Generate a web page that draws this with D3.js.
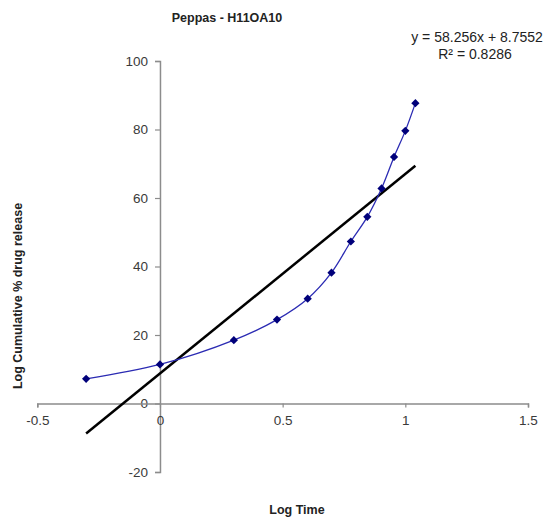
<!DOCTYPE html>
<html>
<head>
<meta charset="utf-8">
<script src="https://cdn.jsdelivr.net/npm/d3@7"></script>
<style>
  body { margin: 0; background: #fff; }
  text { font-family: "Liberation Sans", Arial, sans-serif; }
</style>
</head>
<body>
<script>
// Log time vs log cumulative % drug release
var logTime = [-0.301, 0, 0.301, 0.477, 0.602, 0.699, 0.778, 0.845, 0.903, 0.954, 1.0, 1.041];
var logRelease = [7.2, 11.4, 18.5, 24.5, 30.6, 38.2, 47.3, 54.5, 62.8, 72.0, 79.6, 87.7];

// linear trendline shown on chart
var slope = 58.256;
var intercept = 8.7552;
var rSquared = 0.8286;

var xTicks = [-0.5, 0, 0.5, 1, 1.5];
var yTicks = [-20, 0, 20, 40, 60, 80, 100];

var points = logTime.map(function(t, i) { return { x: t, y: logRelease[i] }; });

var svg = d3.select("body")
    .append("svg")
    .attr("width", 553)
    .attr("height", 519);

var x = d3.scaleLinear().domain([-0.5, 1.5]).range([37.3, 528]);
var y = d3.scaleLinear().domain([-20, 100]).range([472, 61]);

// plain hyphen for negatives, like the original
var fmt = function(d) { return String(d); };

// y axis sits at x = 0
var yAxis = svg.append("g")
    .attr("transform", "translate(" + x(0) + ",0)")
    .call(d3.axisLeft(y).tickValues(yTicks).tickSize(5).tickPadding(7).tickFormat(fmt));

// x axis sits at y = 0
var xAxis = svg.append("g")
    .attr("transform", "translate(0," + y(0) + ")")
    .call(d3.axisBottom(x).tickValues(xTicks).tickSize(4).tickPadding(8).tickFormat(fmt));

[xAxis, yAxis].forEach(function(a) {
    a.select(".domain").attr("stroke", "#8c8c8c").attr("stroke-width", 1.5);
    a.selectAll(".tick line").attr("stroke", "#8c8c8c").attr("stroke-width", 1.2);
    a.selectAll(".tick text")
        .attr("fill", "#3a3a3a")
        .style("font-size", "13.5px")
        .style("font-family", "'Liberation Sans', Arial, sans-serif");
});

// trendline over data extent
var xExt = d3.extent(logTime);
svg.append("line")
    .attr("x1", x(xExt[0]))
    .attr("y1", y(slope * xExt[0] + intercept))
    .attr("x2", x(xExt[1]))
    .attr("y2", y(slope * xExt[1] + intercept))
    .attr("stroke", "#000")
    .attr("stroke-width", 2.5);

// smoothed data series
var line = d3.line()
    .x(function(d) { return x(d.x); })
    .y(function(d) { return y(d.y); })
    .curve(d3.curveCatmullRom.alpha(0.5));

svg.append("path")
    .datum(points)
    .attr("d", line)
    .attr("fill", "none")
    .attr("stroke", "#2b2bb3")
    .attr("stroke-width", 1.3);

// diamond markers (rotated squares)
svg.selectAll(".marker")
    .data(points)
    .enter()
    .append("path")
    .attr("class", "marker")
    .attr("transform", function(d) { return "translate(" + x(d.x) + "," + y(d.y) + ") rotate(45)"; })
    .attr("d", d3.symbol().type(d3.symbolSquare).size(34))
    .attr("fill", "#00007a");

// title
svg.append("text")
    .attr("x", 227)
    .attr("y", 22)
    .attr("text-anchor", "middle")
    .style("font-size", "12.5px")
    .style("font-weight", "bold")
    .attr("fill", "#222")
    .text("Peppas - H11OA10");

// equation
svg.append("text")
    .attr("x", 477)
    .attr("y", 42)
    .attr("text-anchor", "middle")
    .style("font-size", "14px")
    .attr("fill", "#222")
    .text("y = " + slope + "x + " + intercept);

svg.append("text")
    .attr("x", 475)
    .attr("y", 59)
    .attr("text-anchor", "middle")
    .style("font-size", "14px")
    .attr("fill", "#222")
    .text("R\u00b2 = " + rSquared);

// axis titles
svg.append("text")
    .attr("x", 297)
    .attr("y", 514)
    .attr("text-anchor", "middle")
    .style("font-size", "12.5px")
    .style("font-weight", "bold")
    .attr("fill", "#222")
    .text("Log Time");

svg.append("text")
    .attr("transform", "translate(22,296) rotate(-90)")
    .attr("text-anchor", "middle")
    .style("font-size", "12.5px")
    .style("font-weight", "bold")
    .attr("fill", "#222")
    .text("Log Cumulative % drug release");
</script>
</body>
</html>
